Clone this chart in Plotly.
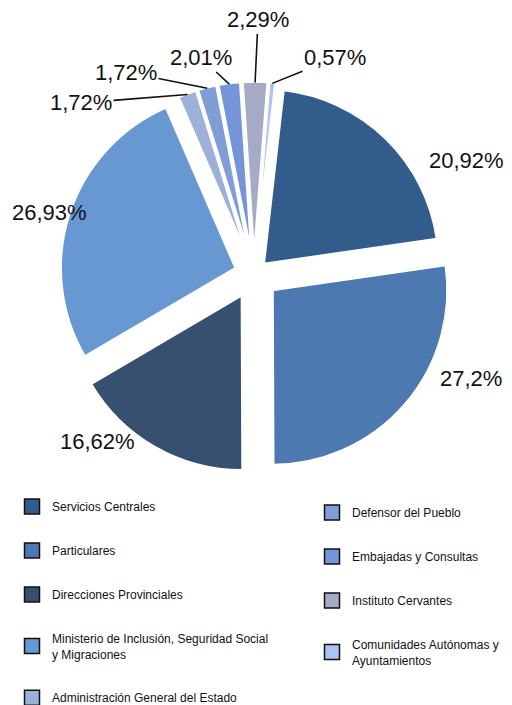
import math
import plotly.graph_objects as go

# data, clockwise from the top of the pie
categorias = [
    "Servicios Centrales",
    "Particulares",
    "Direcciones Provinciales",
    "Ministerio de Inclusión, Seguridad Social<br>y Migraciones",
    "Administración General del Estado",
    "Defensor del Pueblo",
    "Embajadas y Consultas",
    "Instituto Cervantes",
    "Comunidades Autónomas y<br>Ayuntamientos",
]
porcentajes = [20.92, 27.2, 16.62, 26.93, 1.72, 1.72, 2.01, 2.29, 0.57]
etiquetas = ["20,92%", "27,2%", "16,62%", "26,93%", "1,72%", "1,72%", "2,01%", "2,29%", "0,57%"]
colores = ["#315c8c", "#4b79b0", "#375070", "#6898d2", "#9cb0d8",
           "#809ed6", "#7595d8", "#a5abc4", "#aec3f5"]

# layout / style (screen px; the page body adds an 8px offset)
OFF = 8
W, H = 512 - 2 * OFF, 705 - OFF
CX, CY, R = 254 - OFF, 274 - OFF, 175   # pie centre and radius
ROT = 6.5
pulls = [0.08, 0.14, 0.14, 0.11, 0.10, 0.10, 0.10, 0.10, 0.10]
# label centres (Excel-style placement)
pos_etiquetas = [(466, 161), (471, 379), (97, 441), (49, 212),
                 (81, 103), (126, 72), (201, 58), (258, 20), (335, 58)]
pos_etiquetas = [(x - OFF, y - OFF) for x, y in pos_etiquetas]
con_linea = [False, False, False, False, True, True, True, True, True]

half = R * (1 + max(pulls))
dom_x = [(CX - half) / W, (CX + half) / W]
dom_y = [1 - (CY + half) / H, 1 - (CY - half) / H]

fig = go.Figure()
fig.add_trace(go.Pie(
    labels=categorias,
    values=porcentajes,
    text=etiquetas,
    textinfo="none",
    sort=False,
    direction="clockwise",
    rotation=ROT,
    pull=pulls,
    marker=dict(colors=colores, line=dict(color="white", width=2.5)),
    domain=dict(x=dom_x, y=dom_y),
    showlegend=False,
    hoverinfo="label+text",
))

# percentage labels, small slices get a leader line to the outer edge
total = sum(porcentajes)
acum = 0
for i, v in enumerate(porcentajes):
    mid = math.radians(ROT + (acum + v / 2) / total * 360)
    acum += v
    lx, ly = pos_etiquetas[i]
    if con_linea[i]:
        rr = R * (1 + pulls[i]) - 1
        hx = CX + rr * math.sin(mid)
        hy = CY - rr * math.cos(mid)
        fig.add_annotation(
            x=hx / W, y=1 - hy / H, xref="paper", yref="paper",
            ax=lx - hx, ay=ly - hy, axref="pixel", ayref="pixel",
            text=etiquetas[i], showarrow=True, arrowhead=0,
            arrowwidth=1.6, arrowcolor="#111111", standoff=0,
            font=dict(size=22, color="#111111"),
        )
    else:
        fig.add_annotation(
            x=lx / W, y=1 - ly / H, xref="paper", yref="paper",
            xanchor="center", yanchor="middle",
            text=etiquetas[i], showarrow=False,
            font=dict(size=22, color="#111111"),
        )

# legend entries, two columns
for i, (nombre, color) in enumerate(zip(categorias, colores)):
    fig.add_trace(go.Scatter(
        x=[None], y=[None], mode="markers", name=nombre,
        marker=dict(symbol="square", size=15, color=color,
                    line=dict(color="#111111", width=1.5)),
        legend="legend" if i < 5 else "legend2",
        legendgroup=f"g{i}",
    ))

leg_common = dict(
    font=dict(family="Liberation Sans, Arial, sans-serif", size=12, color="#111111"),
    tracegroupgap=25,
    bgcolor="rgba(0,0,0,0)",
    xanchor="left", yanchor="top",
    itemclick=False, itemdoubleclick=False,
)

fig.update_layout(
    width=W, height=H,
    margin=dict(l=0, r=0, t=0, b=0, autoexpand=False),
    paper_bgcolor="white",
    plot_bgcolor="white",
    font=dict(family="Liberation Sans, Arial, sans-serif"),
    xaxis=dict(visible=False),
    yaxis=dict(visible=False),
    legend=dict(x=(12 - OFF) / W, y=1 - (492 - OFF) / H, **leg_common),
    legend2=dict(x=(312 - OFF) / W, y=1 - (498 - OFF) / H, **leg_common),
)

fig.write_html("out.html")
